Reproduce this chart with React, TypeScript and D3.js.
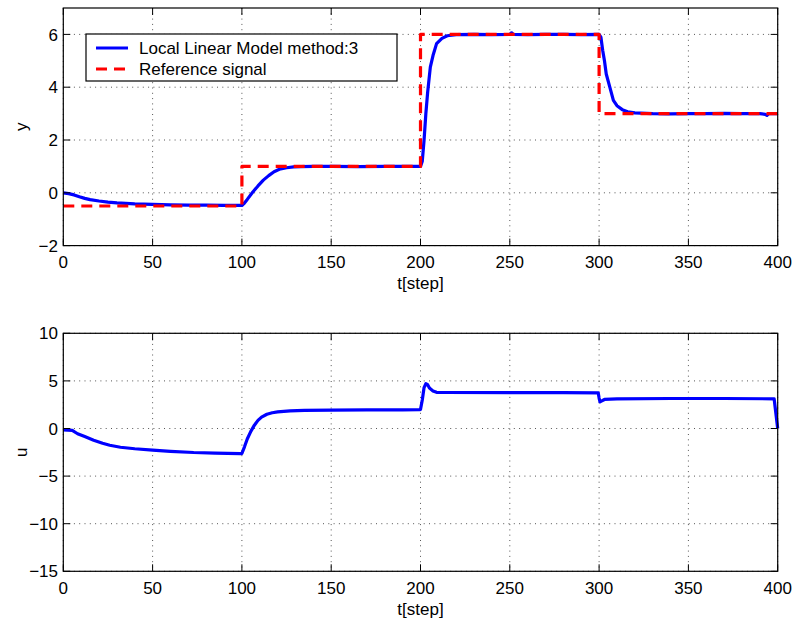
import React from "react";
import * as d3 from "d3";

const W = 797;
const H = 626;

const xTicks = [0, 50, 100, 150, 200, 250, 300, 350, 400];
const yTicksTop = [-2, 0, 2, 4, 6];
const yTicksBot = [-15, -10, -5, 0, 5, 10];

const legendLabels = ["Local Linear Model method:3", "Reference signal"];

// Reference signal (step changes)
const refSignal: [number, number][] = [
  [0, -0.5], [100, -0.5], [100, 1], [200, 1], [200, 6], [300, 6], [300, 3], [400, 3],
];

// Output y of the local linear model
const yOutput: [number, number][] = [
  [0, 0], [3, -0.03], [6, -0.08], [9, -0.15], [12, -0.21], [15, -0.26], [20, -0.31],
  [25, -0.35], [30, -0.38], [35, -0.4], [40, -0.42], [50, -0.44], [60, -0.46], [70, -0.47],
  [80, -0.47], [90, -0.48], [100, -0.48], [101, -0.42], [103, -0.25], [106, 0.02],
  [109, 0.26], [112, 0.48], [115, 0.65], [118, 0.8], [121, 0.89], [125, 0.95], [129, 0.98],
  [133, 0.99], [140, 1.0], [150, 1.0], [165, 0.99], [180, 1.0], [199, 1.0], [200, 1.0],
  [201, 1.2], [202, 2.0], [203, 3.0], [204, 3.8], [205.5, 4.76], [207, 5.2], [209, 5.65],
  [212, 5.85], [215, 5.95], [220, 5.99], [230, 6.0], [240, 5.99], [250, 6.0], [251, 6.06],
  [252, 6.0], [260, 5.99], [270, 6.0], [280, 6.0], [290, 5.99], [300, 6.0], [301, 5.9],
  [302, 5.4], [303, 5.0], [304, 4.5], [306, 4.0], [308, 3.5], [310, 3.3], [313, 3.15],
  [316, 3.07], [320, 3.03], [330, 3.0], [340, 2.99], [350, 3.0], [360, 3.0], [370, 3.01],
  [380, 3.0], [390, 3.0], [393, 2.97], [394, 2.93], [395, 3.0], [400, 3.0],
];

// Control signal u
const uSignal: [number, number][] = [
  [0, -0.15], [5, -0.2], [8, -0.55], [12, -0.85], [17, -1.23], [22, -1.55], [26, -1.76],
  [32, -1.97], [40, -2.13], [50, -2.28], [60, -2.4], [73, -2.52], [85, -2.58], [99, -2.63],
  [100, -2.63], [101.5, -1.9], [103, -1.1], [105, -0.3], [107, 0.35], [109, 0.85],
  [111, 1.2], [114, 1.5], [117, 1.65], [120, 1.74], [127, 1.85], [135, 1.9], [150, 1.93],
  [170, 1.95], [190, 1.95], [199.5, 1.97], [200, 2.0], [201, 3.0], [202, 4.3], [203, 4.7],
  [204, 4.6], [205, 4.25], [207, 3.95], [209, 3.8], [215, 3.78], [250, 3.77], [280, 3.77],
  [299.5, 3.75], [300, 3.2], [300.5, 2.8], [301, 2.85], [303, 3.05], [310, 3.12],
  [340, 3.15], [370, 3.15], [398, 3.12], [400, 0],
];

const FONT = "'Liberation Sans', Arial, sans-serif";
const FS = 17;

type PanelProps = {
  top: number;
  bottom: number;
  yDomain: [number, number];
  yTicks: number[];
  yLabel: string;
  series: { data: [number, number][]; color: string; dash?: string }[];
  children?: React.ReactNode;
};

const LEFT = 63.3;
const RIGHT = 777.7;

function Panel({ top, bottom, yDomain, yTicks, yLabel, series, children }: PanelProps) {
  const x = d3.scaleLinear().domain([0, 400]).range([LEFT, RIGHT]);
  const y = d3.scaleLinear().domain(yDomain).range([bottom, top]);
  const line = d3
    .line<[number, number]>()
    .x((d) => x(d[0]))
    .y((d) => y(d[1]));
  const tickLen = 7;
  return (
    <g>
      <rect x={LEFT} y={top} width={RIGHT - LEFT} height={bottom - top} fill="#fff" />
      {xTicks.map((t) => (
        <line key={"gx" + t} x1={x(t)} x2={x(t)} y1={top} y2={bottom}
          stroke="#555" strokeWidth={1} strokeDasharray="1,4.3" />
      ))}
      {yTicks.map((t) => (
        <line key={"gy" + t} x1={LEFT} x2={RIGHT} y1={y(t)} y2={y(t)}
          stroke="#555" strokeWidth={1} strokeDasharray="1,4.3" />
      ))}
      {series.map((s, i) => (
        <path key={i} d={line(s.data) || ""} fill="none" stroke={s.color}
          strokeWidth={3.2} strokeDasharray={s.dash} strokeLinejoin="round" />
      ))}
      {xTicks.map((t) => (
        <g key={"tx" + t}>
          <line x1={x(t)} x2={x(t)} y1={bottom} y2={bottom - tickLen} stroke="#000" />
          <line x1={x(t)} x2={x(t)} y1={top} y2={top + tickLen} stroke="#000" />
          <text x={x(t)} y={bottom + 22.5} textAnchor="middle" fontSize={FS} fontFamily={FONT}>
            {t}
          </text>
        </g>
      ))}
      {yTicks.map((t) => (
        <g key={"ty" + t}>
          <line x1={LEFT} x2={LEFT + tickLen} y1={y(t)} y2={y(t)} stroke="#000" />
          <line x1={RIGHT} x2={RIGHT - tickLen} y1={y(t)} y2={y(t)} stroke="#000" />
          <text x={58} y={y(t)} dy="0.36em" textAnchor="end" fontSize={FS} fontFamily={FONT}>
            {t < 0 ? "\u2212" + Math.abs(t) : t}
          </text>
        </g>
      ))}
      <rect x={LEFT} y={top} width={RIGHT - LEFT} height={bottom - top} fill="none"
        stroke="#000" strokeWidth={1.2} />
      <text x={(LEFT + RIGHT) / 2} y={bottom + 43.5} textAnchor="middle" fontSize={FS} fontFamily={FONT}>
        t[step]
      </text>
      <text transform={`translate(27,${(top + bottom) / 2}) rotate(-90)`} textAnchor="middle"
        fontSize={FS} fontFamily={FONT}>
        {yLabel}
      </text>
      {children}
    </g>
  );
}

export default function App() {
  return (
    <svg width={W} height={H} style={{ position: "absolute", left: 0, top: 0, background: "#fff" }}>
      <rect width={W} height={H} fill="#fff" />
      <Panel
        top={8}
        bottom={245.6}
        yDomain={[-2, 7]}
        yTicks={yTicksTop}
        yLabel="y"
        series={[
          { data: yOutput, color: "#0000ff" },
          { data: refSignal, color: "#ff0000", dash: "11,7" },
        ]}
      >
        <g>
          <rect x={86} y={34} width={311} height={47} fill="#fff" stroke="#000" strokeWidth={1.2} />
          <line x1={96} x2={128} y1={48} y2={48} stroke="#0000ff" strokeWidth={3} />
          <line x1={96} x2={128} y1={69} y2={69} stroke="#ff0000" strokeWidth={3} strokeDasharray="11,7" />
          <text x={139} y={48} dy="0.36em" fontSize={FS} fontFamily={FONT}>{legendLabels[0]}</text>
          <text x={139} y={69} dy="0.36em" fontSize={FS} fontFamily={FONT}>{legendLabels[1]}</text>
        </g>
      </Panel>
      <Panel
        top={333.3}
        bottom={571.3}
        yDomain={[-15, 10]}
        yTicks={yTicksBot}
        yLabel="u"
        series={[{ data: uSignal, color: "#0000ff" }]}
      />
    </svg>
  );
}
